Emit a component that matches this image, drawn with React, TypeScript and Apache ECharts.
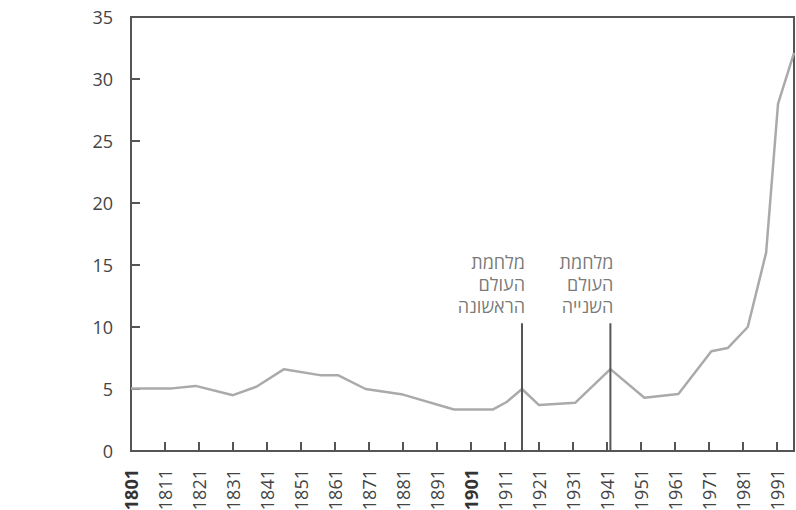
import React, { useEffect, useRef } from "react";
import * as echarts from "echarts";

const years = [1801, 1813, 1820, 1831, 1838, 1846, 1857, 1862, 1870, 1881, 1896, 1907.5, 1911.5, 1916, 1921, 1931.7, 1942, 1952, 1962, 1971.7, 1976.5, 1982.4, 1987.8, 1991.3, 1996];
const values = [5.05, 5.05, 5.25, 4.5, 5.2, 6.6, 6.1, 6.1, 5.0, 4.55, 3.35, 3.35, 3.95, 5.0, 3.7, 3.9, 6.6, 4.3, 4.6, 8.05, 8.3, 10.0, 16.0, 28.0, 32.1];
const tickYears = [1801, 1811, 1821, 1831, 1841, 1851, 1861, 1871, 1881, 1891, 1901, 1911, 1921, 1931, 1941, 1951, 1961, 1971, 1981, 1991];
const boldYears = [1801, 1901];
const warYears = [1916, 1942];
const warTop = 10.3;
const warLabels = ["מלחמת\nהעולם\nהראשונה", "מלחמת\nהעולם\nהשנייה"];

const FONT = "'Open Sans', 'DejaVu Sans', sans-serif";
const AXIS = "#555555";

export default function App() {
  const ref = useRef<HTMLDivElement>(null);
  useEffect(() => {
    if (!ref.current) return;
    const chart = echarts.init(ref.current, undefined, { renderer: "svg" });
    const series: any[] = [
      {
        type: "line",
        data: years.map((y, i) => [y, values[i]]),
        showSymbol: false,
        symbol: "none",
        lineStyle: { color: "#aaaaab", width: 2.5 },
        z: 2,
      },
    ];
    warYears.forEach((wy, i) => {
      series.push({
        type: "line",
        data: [
          [wy, 0],
          [wy, warTop],
        ],
        symbol: "none",
        lineStyle: { color: AXIS, width: 2 },
        z: 3,
      });
      series.push({
        type: "scatter",
        data: [[wy, warTop]],
        symbolSize: 0,
        silent: true,
        label: {
          show: true,
          position: "top",
          distance: 6,
          align: "right",
          offset: [3, 0],
          formatter: () => warLabels[i],
          fontSize: 18,
          lineHeight: 22,
          color: "#555555",
          fontFamily: FONT,
        },
        z: 4,
      });
    });
    chart.setOption({
      animation: false,
      grid: {
        left: 131,
        right: 2,
        top: 17,
        bottom: 59,
        show: true,
        borderColor: AXIS,
        borderWidth: 2,
        containLabel: false,
        outerBoundsMode: "none",
      },
      xAxis: {
        type: "value",
        min: 1801,
        max: 1996,
        splitLine: { show: false },
        axisLine: { show: true, lineStyle: { color: AXIS, width: 2 } },
        axisTick: {
          show: true,
          inside: true,
          length: 9,
          customValues: tickYears,
          lineStyle: { color: AXIS, width: 2 },
        },
        axisLabel: {
          customValues: tickYears,
          rotate: 90,
          margin: 18,
          fontSize: 18,
          color: "#444444",
          fontFamily: FONT,
          formatter: (v: number) => (boldYears.includes(v) ? `{b|${v}}` : `${v}`),
          rich: {
            b: { fontWeight: "bold", fontSize: 18, color: "#333333", fontFamily: FONT },
          },
        },
      },
      yAxis: {
        type: "value",
        min: 0,
        max: 35,
        interval: 5,
        splitLine: { show: false },
        axisLine: { show: true, lineStyle: { color: AXIS, width: 2 } },
        axisTick: { show: true, inside: true, length: 9, lineStyle: { color: AXIS, width: 2 } },
        axisLabel: { fontSize: 18, color: "#444444", margin: 18, fontFamily: FONT },
      },
      series,
    });
    return () => chart.dispose();
  }, []);
  return (
    <div
      ref={ref}
      style={{ position: "fixed", left: 0, top: 0, width: 796, height: 510, background: "#fff" }}
    />
  );
}
